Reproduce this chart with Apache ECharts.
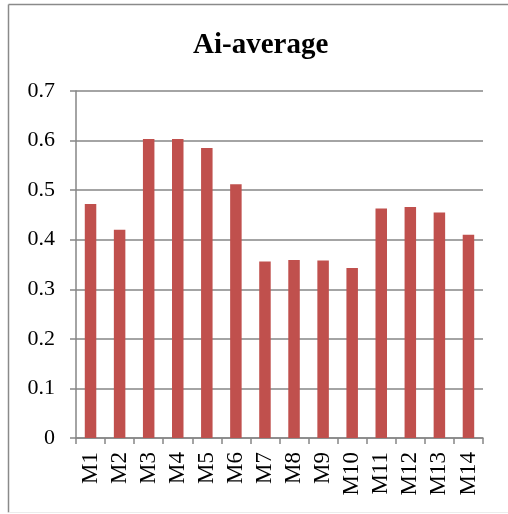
<!DOCTYPE html>
<html>
<head>
<meta charset="utf-8">
<script src="https://cdn.jsdelivr.net/npm/echarts@6/dist/echarts.min.js"></script>
<style>
  html, body { margin: 0; padding: 0; background: #fff; }
  #chart { width: 508px; height: 514px; }
</style>
</head>
<body>
<div id="chart"></div>
<script>
// Average Ai per model
const categories = ['M1', 'M2', 'M3', 'M4', 'M5', 'M6', 'M7', 'M8', 'M9', 'M10', 'M11', 'M12', 'M13', 'M14'];
const aiAverage = [0.472, 0.420, 0.603, 0.603, 0.585, 0.512, 0.356, 0.359, 0.358, 0.343, 0.463, 0.466, 0.455, 0.410];
const titleText = 'Ai-average';

const serif = '"Liberation Serif", "Times New Roman", serif';
const gridGrey = '#868686';

const chart = echarts.init(document.getElementById('chart'), null, { renderer: 'canvas' });
chart.setOption({
  backgroundColor: '#ffffff',
  animation: false,
  title: {
    text: titleText,
    left: 193,
    top: 31,
    padding: 0,
    textStyle: { fontFamily: serif, fontWeight: 'bold', fontSize: 29, color: '#000' }
  },
  graphic: [
    // chart frame
    { type: 'line', shape: { x1: 8.5, y1: 4.5, x2: 520, y2: 4.5 }, style: { stroke: '#8a8a8a', lineWidth: 1.5 } },
    { type: 'line', shape: { x1: 8.5, y1: 4.5, x2: 8.5, y2: 512.5 }, style: { stroke: '#8a8a8a', lineWidth: 1.5 } },
    { type: 'line', shape: { x1: 8.5, y1: 512.5, x2: 520, y2: 512.5 }, style: { stroke: '#ececec', lineWidth: 1 } }
  ],
  grid: { left: 76, right: 25, top: 91, bottom: 76, containLabel: false },
  xAxis: {
    type: 'category',
    data: categories,
    boundaryGap: true,
    axisLine: { show: true, lineStyle: { color: gridGrey, width: 1.5 } },
    axisTick: { show: true, alignWithLabel: false, length: 6, lineStyle: { color: gridGrey, width: 1.5 } },
    axisLabel: {
      rotate: 90,
      interval: 0,
      margin: 14,
      fontFamily: serif,
      fontSize: 23,
      color: '#000'
    },
    splitLine: { show: false }
  },
  yAxis: {
    type: 'value',
    min: 0,
    max: 0.7,
    interval: 0.1,
    axisLine: { show: true, lineStyle: { color: gridGrey, width: 1.5 } },
    axisTick: { show: true, length: 6, lineStyle: { color: gridGrey, width: 1.5 } },
    axisLabel: {
      margin: 21,
      fontFamily: serif,
      fontSize: 22,
      color: '#000',
      formatter: v => (Math.round(v * 10) / 10).toString()
    },
    splitLine: { show: true, lineStyle: { color: gridGrey, width: 1.5 } }
  },
  series: [{
    type: 'bar',
    data: aiAverage,
    barWidth: 11.5,
    itemStyle: { color: '#C0504D' }
  }]
});
</script>
</body>
</html>
